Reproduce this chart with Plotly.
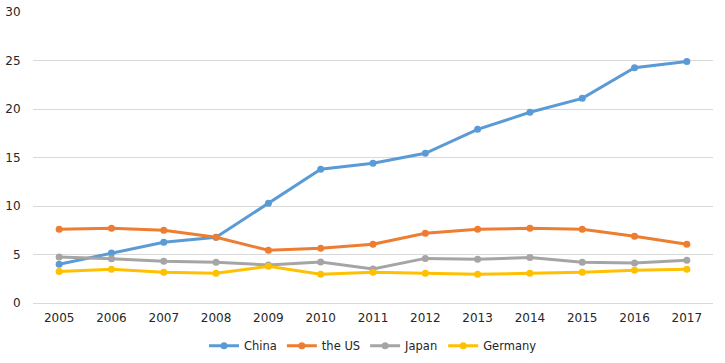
import plotly.graph_objects as go

years = [str(y) for y in range(2005, 2018)]
china = [4.0, 5.15, 6.26, 6.77, 10.28, 13.8, 14.4, 15.43, 17.9, 19.66, 21.1, 24.26, 24.9]
us = [7.6, 7.7, 7.5, 6.77, 5.43, 5.64, 6.05, 7.19, 7.6, 7.7, 7.6, 6.88, 6.05]
japan = [4.74, 4.57, 4.3, 4.2, 3.92, 4.23, 3.5, 4.6, 4.5, 4.7, 4.2, 4.12, 4.4]
germany = [3.26, 3.47, 3.16, 3.06, 3.78, 2.96, 3.16, 3.06, 2.96, 3.06, 3.16, 3.37, 3.47]

series = [("China", china, "#5B9BD5"), ("the US", us, "#ED7D31"),
          ("Japan", japan, "#A5A5A5"), ("Germany", germany, "#FFC000")]

fig = go.Figure()
for name, vals, col in series:
    fig.add_trace(go.Scatter(x=years, y=vals, name=name, mode="lines+markers",
                             line=dict(color=col, width=3),
                             marker=dict(color=col, size=7)))

fig.update_layout(
    width=725, height=363,
    margin=dict(l=33, r=12, t=12, b=60, autoexpand=False),
    paper_bgcolor="white", plot_bgcolor="white",
    font=dict(family="DejaVu Sans, Verdana, sans-serif", size=12, color="#262626"),
    legend=dict(orientation="h", x=0.5, xanchor="center", y=-0.097, yanchor="top",
                font=dict(size=11.5), itemwidth=30, traceorder="normal"),
    showlegend=True,
)
fig.update_xaxes(type="category", range=[-0.5, len(years) - 0.5],
                 showgrid=False, showline=True, linecolor="#D9D9D9",
                 ticks="outside", ticklen=4, tickcolor="rgba(0,0,0,0)", automargin=False)
fig.update_yaxes(range=[0, 30], dtick=5, showgrid=True, gridcolor="#D9D9D9", gridwidth=1,
                 zeroline=False, showline=False, automargin=False,
                 ticks="outside", ticklen=9, tickcolor="rgba(0,0,0,0)")

fig.write_html("out.html", config={"displayModeBar": False},
               post_script="document.body.style.margin='0';")
